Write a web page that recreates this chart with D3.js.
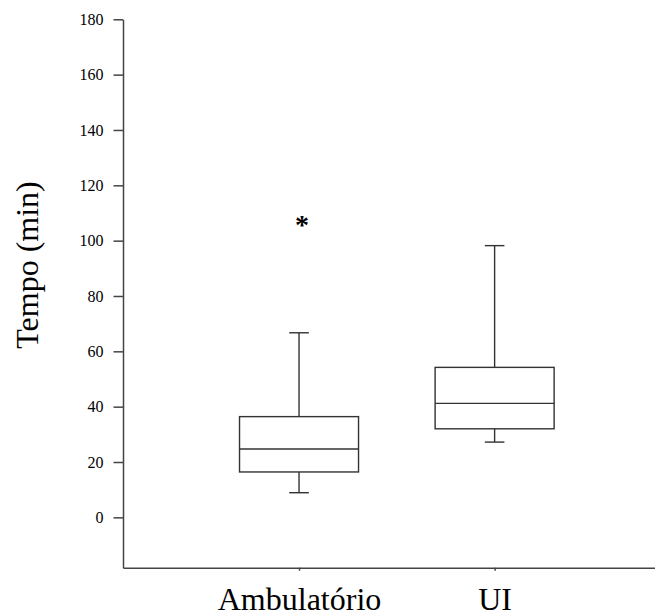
<!DOCTYPE html>
<html lang="pt">
  <head>
    <meta charset="UTF-8" />
    <script src="https://d3js.org/d3.v7.min.js"></script>
    <title>Tempo (min)</title>
    <style>
      body { margin: 0; background: #fff; }
      svg text { font-family: "Liberation Serif", "Times New Roman", serif !important; fill: #000; }
      .axis path, .axis line { stroke: #444; stroke-width: 1.5; }
      .box { fill: none; stroke: #333; stroke-width: 1.4; }
    </style>
  </head>
  <body>
    <svg id="chart" width="655" height="614"></svg>
    <script>
      // data
      const groups = ["Ambulatório", "UI"];
      const whiskerLow = [8.9, 27.2];
      const q1 = [16.4, 32.0];
      const median = [24.7, 41.2];
      const q3 = [36.4, 54.2];
      const whiskerHigh = [66.7, 98.2];
      const outliers = [[107], []];
      const yTicks = [0, 20, 40, 60, 80, 100, 120, 140, 160, 180];

      const svg = d3.select("#chart");
      const plotLeft = 123, plotRight = 655, plotTop = 19.3, plotBottom = 567.7;

      // categories sit at positions 1 and 2 on a linear axis
      const x = d3.scaleLinear().domain([0.1, 2.82]).range([plotLeft, plotRight]);
      const y = d3.scaleLinear().domain([-18.2, 180]).range([plotBottom, plotTop]);

      const boxHalf = 59.5, capHalf = 9.8;

      svg.append("g")
        .attr("class", "axis")
        .attr("transform", `translate(${plotLeft},0)`)
        .call(d3.axisLeft(y).tickValues(yTicks).tickSize(9.5).tickPadding(10).tickSizeOuter(0))
        .attr("font-family", "Liberation Serif")
        .attr("font-size", 16);

      svg.append("g")
        .attr("class", "axis")
        .attr("transform", `translate(0,${plotBottom})`)
        .call(d3.axisBottom(x).tickValues([1, 2]).tickFormat(d => groups[d - 1]).tickSize(3).tickPadding(17).tickSizeOuter(0))
        .attr("font-family", "Liberation Serif")
        .attr("font-size", 32)
        .call(g => g.selectAll("line").attr("stroke-width", 1))
        .call(g => g.selectAll("text").attr("dy", "0.71em"));

      svg.append("text")
        .attr("transform", `translate(37.5,${265}) rotate(-90)`)
        .attr("text-anchor", "middle")
        .attr("font-size", 32)
        .text("Tempo (min)");

      const marks = svg.append("g");
      groups.forEach((name, i) => {
        const cx = x(i + 1);
        // upper whisker
        marks.append("line").attr("class", "box")
          .attr("x1", cx).attr("x2", cx).attr("y1", y(q3[i])).attr("y2", y(whiskerHigh[i]));
        marks.append("line").attr("class", "box")
          .attr("x1", cx - capHalf).attr("x2", cx + capHalf).attr("y1", y(whiskerHigh[i])).attr("y2", y(whiskerHigh[i]));
        // lower whisker
        marks.append("line").attr("class", "box")
          .attr("x1", cx).attr("x2", cx).attr("y1", y(q1[i])).attr("y2", y(whiskerLow[i]));
        marks.append("line").attr("class", "box")
          .attr("x1", cx - capHalf).attr("x2", cx + capHalf).attr("y1", y(whiskerLow[i])).attr("y2", y(whiskerLow[i]));
        // box and median
        marks.append("rect").attr("class", "box")
          .attr("x", cx - boxHalf).attr("width", boxHalf * 2)
          .attr("y", y(q3[i])).attr("height", y(q1[i]) - y(q3[i]));
        marks.append("line").attr("class", "box")
          .attr("x1", cx - boxHalf).attr("x2", cx + boxHalf).attr("y1", y(median[i])).attr("y2", y(median[i]));
        // outliers
        outliers[i].forEach(v => {
          marks.append("text")
            .attr("x", cx + 3).attr("y", y(v) + 13)
            .attr("text-anchor", "middle")
            .attr("font-size", 28)
            .attr("font-weight", "bold")
            .text("*");
        });
      });
    </script>
  </body>
</html>
